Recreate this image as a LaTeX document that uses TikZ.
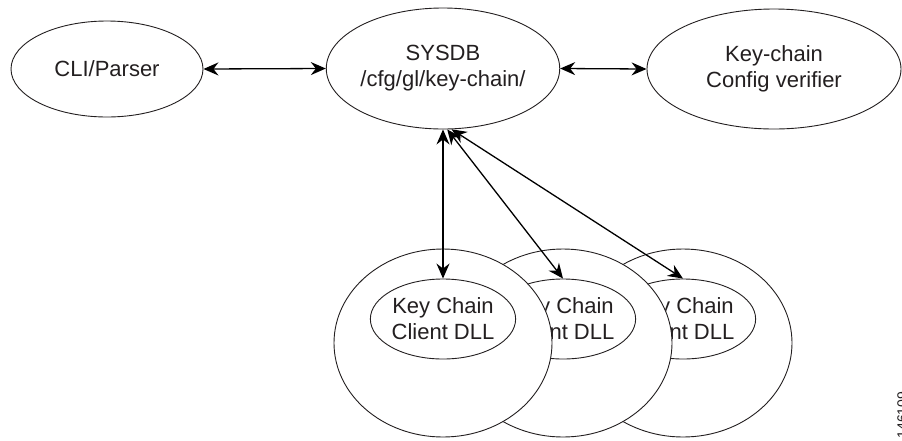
\documentclass[tikz,border=0pt]{standalone}
\usepackage{fontspec}
\setmainfont{Liberation Sans}
\usetikzlibrary{shapes.geometric,arrows.meta}
\definecolor{ink}{HTML}{231F20}
\tikzset{
  oval/.style={ellipse,draw=ink,line width=0.9pt,fill=white,inner sep=0pt,
    text=ink,align=center,font=\fontsize{22}{26}\selectfont},
  link/.style={line width=1.3pt,draw=black,
    {Stealth[length=15pt,width=13pt,inset=5pt]}-{Stealth[length=15pt,width=13pt,inset=5pt]}},
}
\begin{document}
\begin{tikzpicture}[x=1pt,y=-1pt]
\useasboundingbox (0,0) rectangle (902,440);

% top row
\node[oval,minimum width=192pt,minimum height=96pt] (cli) at (107,69) {CLI/Parser};
\node[oval,minimum width=216pt,minimum height=121pt] (sysdb) at (443,68.5) {SYSDB\\/cfg/gl/key-chain/};
\node[oval,minimum width=254pt,minimum height=120pt] (ver) at (774,69) {Key-chain\\Config verifier};

% stacked client processes, back to front
\node[oval,minimum width=218pt,minimum height=188pt] (p3) at (683,343) {};
\node[oval,minimum width=145pt,minimum height=80pt] (d3) at (683,319) {Key Chain\\Client DLL};
\node[oval,minimum width=218pt,minimum height=188pt] (p2) at (563,343) {};
\node[oval,minimum width=145pt,minimum height=80pt] (d2) at (563,319) {Key Chain\\Client DLL};
\node[oval,minimum width=218pt,minimum height=188pt] (p1) at (443,343) {};
\node[oval,minimum width=145pt,minimum height=80pt] (d1) at (443,319) {Key Chain\\Client DLL};

% connectors
\draw[link] (cli.east) -- (sysdb.west);
\draw[link] (sysdb.east) -- (ver.west);
\draw[link] (sysdb.south) -- (d1.north);
\draw[link] (sysdb.-86) -- (d2.north);
\draw[link] (sysdb.-82) -- (d3.north);

% figure number
\node[rotate=90,anchor=base,inner sep=0pt,text=ink,font=\fontsize{14}{16}\selectfont]
  (fig) at (907,415) {146109};
\end{tikzpicture}
\end{document}
